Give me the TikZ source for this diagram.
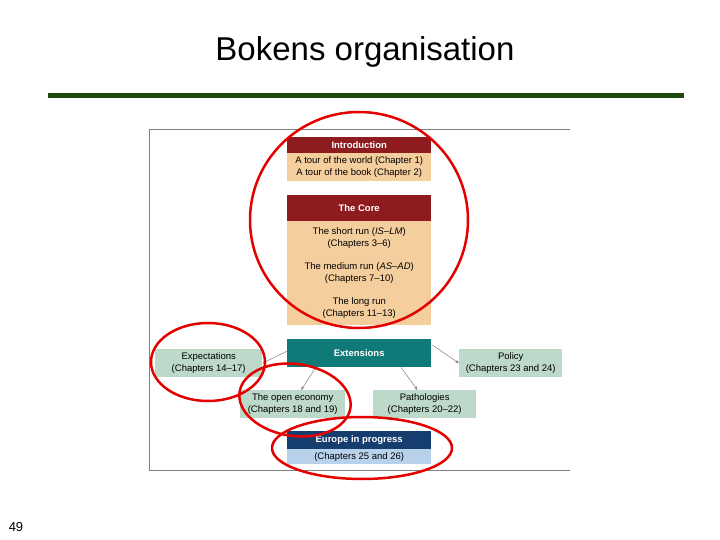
\documentclass[tikz,border=0pt]{standalone}
\usepackage{fontspec}
\setmainfont{Liberation Sans}
\usetikzlibrary{arrows.meta,positioning,calc}
\definecolor{hdred}{HTML}{8E1B1E}
\definecolor{tan}{HTML}{F5CE9E}
\definecolor{teal}{HTML}{107A78}
\definecolor{mint}{HTML}{BCD9C9}
\definecolor{navy}{HTML}{153D6E}
\definecolor{pale}{HTML}{B9D2EC}
\definecolor{bar}{HTML}{1E4A10}
\tikzset{
  box/.style={anchor=north west, inner sep=0pt, align=center, font=\fontsize{9.5}{11.5}\selectfont},
  head/.style={box, text=white, font=\bfseries\fontsize{9.5}{11}\selectfont},
  link/.style={draw=gray, line width=0.5pt, -{Stealth[length=4pt,width=3pt]}},
  redring/.style={draw=red!90!black, line width=2.5pt}
}
\begin{document}
\begin{tikzpicture}[x=1pt, y=-1pt]
  \useasboundingbox (0,0) rectangle (720,540);

  \node (title) at (365,52) {\fontsize{33}{38}\selectfont Bokens organisation};
  \draw[bar, line width=5pt] (48,96) -- (684,96);
  \node (page) at (16,527) {\fontsize{13}{15}\selectfont 49};

  % frame
  \draw[gray, line width=0.8pt] (570,129) -- (149,129) -- (149,470) -- (570,470);

  % introduction {{{
  \node[head, fill=hdred, minimum width=144pt, minimum height=16pt] (introhd) at (287,137) {Introduction};
  \node[box, fill=tan, minimum width=144pt, minimum height=28pt] (introbd) at (287,153)
    {A tour of the world (Chapter 1)\\A tour of the book (Chapter 2)};
  % }}}

  % core {{{
  \node[head, fill=hdred, minimum width=144pt, minimum height=26pt] (corehd) at (287,195) {The Core};
  \node[box, fill=tan, minimum width=144pt, minimum height=104pt, font=\fontsize{9.5}{12}\selectfont] (corebd) at (287,221)
    {The short run (\textit{IS--LM})\\(Chapters 3--6)\\[11pt]
     The medium run (\textit{AS--AD})\\(Chapters 7--10)\\[11pt]
     The long run\\(Chapters 11--13)};
  % }}}

  % extensions {{{
  \node[head, fill=teal, minimum width=144pt, minimum height=28pt] (ext) at (287,339) {Extensions};
  \node[box, fill=mint, minimum width=107pt, minimum height=28pt] (expect) at (155,349)
    {Expectations\\(Chapters 14--17)};
  \node[box, fill=mint, minimum width=103pt, minimum height=28pt] (policy) at (459,349)
    {Policy\\(Chapters 23 and 24)};
  \node[box, fill=mint, minimum width=105pt, minimum height=28pt] (open) at (240,390)
    {The open economy\\(Chapters 18 and 19)};
  \node[box, fill=mint, minimum width=103pt, minimum height=28pt] (patho) at (373,390)
    {Pathologies\\(Chapters 20--22)};
  % }}}

  % europe {{{
  \node[head, fill=navy, minimum width=144pt, minimum height=18pt] (eurohd) at (287,431) {Europe in progress};
  \node[box, fill=pale, minimum width=144pt, minimum height=15pt] (eurobd) at (287,449)
    {(Chapters 25 and 26)};
  % }}}

  \draw[link] (ext.west) ++(0,-2) -- (expect.east);
  \draw[link] ($(ext.south west)!0.2!(ext.south east)$) -- ($(open.north west)!0.58!(open.north east)$);
  \draw[link] ($(ext.south west)!0.79!(ext.south east)$) -- ($(patho.north west)!0.43!(patho.north east)$);
  \draw[link] ($(ext.north east)+(1,6)$) -- ($(policy.west)+(0,0)$);

  % red rings
  \draw[redring] (359,220) ellipse [x radius=109, y radius=108];
  \draw[redring] (208,362) ellipse [x radius=57, y radius=39];
  \draw[redring, rotate around={-8:(295,400)}] (295,400) ellipse [x radius=56, y radius=36];
  \draw[redring] (362,448) ellipse [x radius=90, y radius=31];
\end{tikzpicture}
\end{document}
